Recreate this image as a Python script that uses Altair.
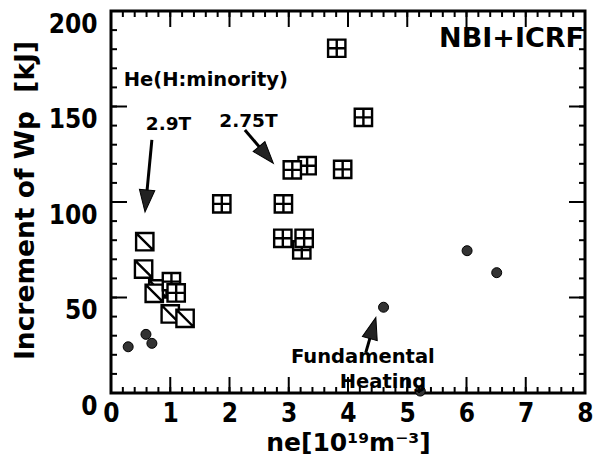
import math
import altair as alt
import pandas as pd

# ---------------- data ----------------
# Fundamental heating (filled circles)
circ_x = [0.29, 0.59, 0.69, 4.60, 5.22, 6.01, 6.51]
circ_y = [24.2, 30.7, 26.0, 44.9, 1.0, 74.5, 63.0]

# 2.9T (square with diagonal)
diag_x = [0.57, 0.55, 0.79, 0.73, 1.00, 1.25]
diag_y = [79.2, 64.9, 54.5, 52.2, 41.4, 39.1]

# 2.75T (square with cross)
grid_x = [1.02, 1.10, 1.87, 2.91, 3.22, 2.90, 3.26, 3.31, 3.06, 3.91, 4.26, 3.81]
grid_y = [58.3, 52.4, 99.0, 99.0, 74.9, 81.0, 81.0, 119.0, 116.8, 117.1, 144.3, 180.5]

# annotations
big_text = ["NBI+ICRF"]
big_x = [6.76]
big_y = [181.2]

mid_text = ["He(H:minority)", "Fundamental", "Heating"]
mid_x = [1.60, 4.25, 4.59]
mid_y = [160.7, 15.7, 2.6]

small_text = ["2.9T", "2.75T"]
small_x = [0.97, 2.32]
small_y = [137.7, 139.4]

# arrows: start -> tip (data coordinates)
arr_x0 = [0.69, 2.26, 4.30]
arr_y0 = [132.5, 137.7, 21.1]
arr_x1 = [0.574, 2.74, 4.47]
arr_y1 = [94.8, 120.3, 39.6]

x_major = [0, 1, 2, 3, 4, 5, 6, 7, 8]
x_minor = [round(i * 0.2, 1) for i in range(41)]
y_major = [0, 50, 100, 150, 200]
y_minor = list(range(0, 201, 10))

# ---------------- layout ----------------
W, H = 474, 382
KX, KY = W / 8.0, H / 200.0
MAJ, MIN = 16, 6
HEAD = 22
LABEL_FONT = "DejaVu Sans Condensed, DejaVu Sans"

xs = alt.Scale(domain=[0, 8], nice=False, zero=False)
ys = alt.Scale(domain=[0, 200], nice=False, zero=False)

x_axis = alt.Axis(values=x_major, format="d", ticks=False, tickSize=0, domain=False, grid=False,
                  labelFont=LABEL_FONT, labelFontWeight="bold", labelFontSize=26,
                  labelPadding=7, labelBaseline="top", labelFlush=False, labelOverlap=False,
                  labelColor="black",
                  title="ne[10¹⁹m⁻³]", titleFont="DejaVu Sans", titleFontWeight="bold",
                  titleFontSize=25, titleColor="black", titleX=W / 2, titleY=57,
                  titleAlign="center", titleBaseline="alphabetic")
y_axis = alt.Axis(values=y_major, format="d", ticks=False, tickSize=0, domain=False, grid=False,
                  labelFont=LABEL_FONT, labelFontWeight="bold", labelFontSize=26,
                  labelPadding=14, labelBaseline="top", labelFlush=False, labelOverlap=False,
                  labelColor="black",
                  title="Increment of Wp\u00a0 [kJ]", titleFont="DejaVu Sans", titleFontWeight="bold",
                  titleFontSize=26.5, titleColor="black", titleAngle=270, titleX=-86, titleY=189,
                  titleAlign="center", titleBaseline="middle")

GRID_PATH = "M-1,-1H1V1H-1Z M0,-1V1 M-1,0H1"
DIAG_PATH = "M-1,-1H1V1H-1Z M-1,-1L1,1"
HEAD_PATH = "M0,0L0.7,2L-0.7,2Z"

layers = []

# frame ticks (inward)
def xticks(vals, length):
    d = pd.DataFrame({"v": vals})
    base = alt.Chart(d).mark_rule(color="black", strokeWidth=2)
    return [
        base.encode(x=alt.X("v:Q", scale=xs), y=alt.value(H), y2=alt.value(H - length)),
        base.encode(x=alt.X("v:Q", scale=xs), y=alt.value(0), y2=alt.value(length)),
    ]

def yticks(vals, length):
    d = pd.DataFrame({"v": vals})
    base = alt.Chart(d).mark_rule(color="black", strokeWidth=2)
    return [
        base.encode(y=alt.Y("v:Q", scale=ys), x=alt.value(0), x2=alt.value(length)),
        base.encode(y=alt.Y("v:Q", scale=ys), x=alt.value(W), x2=alt.value(W - length)),
    ]

# circles (carry the axes)
circ_df = pd.DataFrame({"x": circ_x, "y": circ_y})
layers.append(alt.Chart(circ_df).mark_circle(size=100, color="#333333", opacity=1,
                                              stroke="black", strokeWidth=1).encode(
    x=alt.X("x:Q", scale=xs, axis=x_axis),
    y=alt.Y("y:Q", scale=ys, axis=y_axis)))

layers += xticks(x_minor, MIN) + xticks(x_major, MAJ) + yticks(y_minor, MIN) + yticks(y_major, MAJ)

diag_df = pd.DataFrame({"x": diag_x, "y": diag_y})
layers.append(alt.Chart(diag_df).mark_point(shape=DIAG_PATH, size=300, filled=True, fill="white",
                                            stroke="black", strokeWidth=2.4, opacity=1).encode(
    x=alt.X("x:Q", scale=xs), y=alt.Y("y:Q", scale=ys)))

grid_df = pd.DataFrame({"x": grid_x, "y": grid_y})
layers.append(alt.Chart(grid_df).mark_point(shape=GRID_PATH, size=300, filled=True, fill="white",
                                            stroke="black", strokeWidth=2.4, opacity=1).encode(
    x=alt.X("x:Q", scale=xs), y=alt.Y("y:Q", scale=ys)))

# arrows
rows = []
for x0, y0, x1, y1 in zip(arr_x0, arr_y0, arr_x1, arr_y1):
    dx = (x1 - x0) * KX
    dy = -(y1 - y0) * KY
    ln = math.hypot(dx, dy)
    ang = math.degrees(math.atan2(dx, -dy)) % 360
    f = max(0.0, 1 - (HEAD * 0.8) / ln)
    rows.append({"x0": x0, "y0": y0, "xe": x0 + (x1 - x0) * f, "ye": y0 + (y1 - y0) * f,
                 "x1": x1, "y1": y1, "ang": ang})
arr_df = pd.DataFrame(rows)
layers.append(alt.Chart(arr_df).mark_rule(color="black", strokeWidth=3).encode(
    x=alt.X("x0:Q", scale=xs), y=alt.Y("y0:Q", scale=ys), x2="xe:Q", y2="ye:Q"))
layers.append(alt.Chart(arr_df).mark_point(shape=HEAD_PATH, size=HEAD * HEAD, filled=True,
                                           color="#222222", opacity=1, stroke="black",
                                           strokeWidth=1).encode(
    x=alt.X("x1:Q", scale=xs), y=alt.Y("y1:Q", scale=ys),
    angle=alt.Angle("ang:Q", scale=None)))

def text_layer(t, xv, yv, size):
    d = pd.DataFrame({"t": t, "x": xv, "y": yv})
    return alt.Chart(d).mark_text(font="DejaVu Sans", fontWeight="bold", fontSize=size,
                                  align="center", baseline="alphabetic", color="black").encode(
        x=alt.X("x:Q", scale=xs), y=alt.Y("y:Q", scale=ys), text="t:N")

layers.append(text_layer(big_text, big_x, big_y, 27))
layers.append(text_layer(mid_text, mid_x, mid_y, 19.5))
layers.append(text_layer(small_text, small_x, small_y, 18.5))

chart = alt.layer(*layers).properties(
    width=W, height=H,
    padding={"left": 103, "top": 3, "right": 8, "bottom": 62},
    autosize=alt.AutoSizeParams(type="none"),
    background="white",
).configure_view(stroke="black", strokeWidth=3)

chart.save("out.html", embed_options={"renderer": "svg", "actions": False})
